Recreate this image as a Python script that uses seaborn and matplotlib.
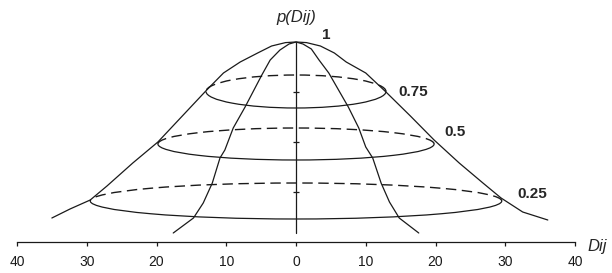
import matplotlib
matplotlib.use("Agg")
import matplotlib.pyplot as plt
from matplotlib.patches import Arc
import seaborn as sns

# Configura Seaborn
sns.set_theme(style="white")
plt.rcParams['font.family'] = ['Liberation Sans', 'DejaVu Sans']

# curva larga (distanza Dij, probabilita')
wide_x = [-35.0, -32.4, -29.5, -27.1, -23.4, -19.8, -16.3, -12.8, -10.4, -8.0, -5.5, -3.5, -1.5, 0.0,
          1.5, 3.5, 5.5, 7.2, 10.0, 12.9, 16.4, 19.8, 23.4, 26.8, 29.4, 32.5, 36.1]
wide_p = [0.12, 0.165, 0.21, 0.28, 0.395, 0.50, 0.63, 0.76, 0.845, 0.90, 0.945, 0.98, 0.997, 1.0,
          0.997, 0.98, 0.945, 0.90, 0.845, 0.75, 0.63, 0.51, 0.395, 0.295, 0.22, 0.15, 0.11]

# curva stretta
narrow_x = [-17.6, -14.7, -13.3, -12.0, -10.9, -10.2, -9.0, -7.3, -4.9, -3.7, -2.3, -1.0, 0.0,
            1.0, 2.2, 3.3, 4.7, 7.5, 9.0, 10.0, 11.0, 12.2, 13.4, 14.8, 17.6]
narrow_p = [0.045, 0.12, 0.195, 0.295, 0.42, 0.46, 0.57, 0.675, 0.835, 0.91, 0.96, 0.99, 1.0,
            0.99, 0.965, 0.91, 0.845, 0.675, 0.57, 0.475, 0.42, 0.295, 0.2, 0.12, 0.045]

# ellissi di livello
levels = ['0.75', '0.5', '0.25']
ell_center = [0.7525, 0.49, 0.205]
ell_halfwidth = [12.9, 19.8, 29.5]
ell_halfheight = [0.0825, 0.08, 0.09]

ticks = [-40, -30, -20, -10, 0, 10, 20, 30, 40]
tick_labels = ['40', '30', '20', '10', '0', '10', '20', '30', '40']

col = '#1a1a1a'
fig = plt.figure(figsize=(6.12, 2.73), dpi=100)
ax = fig.add_axes([17 / 612, 31 / 273, 558 / 612, 240 / 273])

sns.lineplot(x=wide_x, y=wide_p, sort=False, estimator=None, color=col, lw=0.9, ax=ax)
sns.lineplot(x=narrow_x, y=narrow_p, sort=False, estimator=None, color=col, lw=0.9, ax=ax)

for c, w, h in zip(ell_center, ell_halfwidth, ell_halfheight):
    ax.add_patch(Arc((0, c), 2 * w, 2 * h, theta1=0, theta2=180, color=col, lw=1.0,
                     linestyle=(0, (7.5, 4))))
    ax.add_patch(Arc((0, c), 2 * w, 2 * h, theta1=180, theta2=360, color=col, lw=0.9))

# asse verticale
ax.plot([0, 0], [0.045, 1.0], color=col, lw=0.9)
ax.plot([0, 0, 0], [0.75, 0.5, 0.25], ls='none', marker='_', ms=5, mew=0.9, color=col)

# etichette livelli
ax.text(4.4, 1.035, '1', fontsize=11, fontweight='bold', ha='center', va='center')
for lab, x, y in zip(levels, [16.8, 22.8, 33.8], [0.75, 0.55, 0.24]):
    ax.text(x, y, lab, fontsize=11, fontweight='bold', ha='center', va='center')

ax.text(0, 1.12, 'p(Dij)', fontsize=12, fontstyle='italic', ha='center', va='center')
ax.text(41.8, -0.025, 'Dij', fontsize=12, fontstyle='italic', ha='left', va='center',
        clip_on=False)

ax.set_xlim(-40, 40)
ax.set_ylim(0, 1.2)
ax.set_xticks(ticks)
ax.set_xticklabels(tick_labels, fontsize=10)
ax.set_yticks([])
ax.tick_params(axis='x', direction='out', length=3, width=0.9, pad=6.5, colors=col, bottom=True)
for s in ['top', 'left', 'right']:
    ax.spines[s].set_visible(False)
ax.spines['bottom'].set_color(col)
ax.spines['bottom'].set_linewidth(0.9)
ax.set_facecolor('none')

plt.savefig('out.png', dpi=100)
